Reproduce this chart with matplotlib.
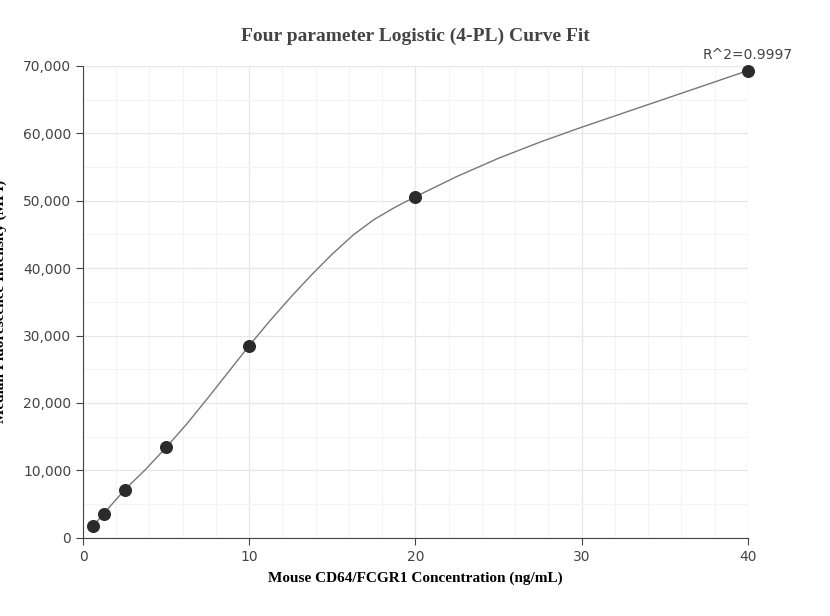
import matplotlib.pyplot as plt
import numpy as np

# measured points
conc = [0.625, 1.25, 2.5, 5, 10, 20, 40]
mfi = [1800, 3600, 7100, 13400, 28500, 50600, 69300]

# fitted curve
curve_x = [0.625, 1.25, 2.5, 3.75, 5, 6.25, 7.5, 8.75, 10, 11.25, 12.5, 13.75, 15,
           16.25, 17.5, 18.75, 20, 22.5, 25, 27.5, 30, 32.5, 35, 37.5, 40]
curve_y = [1800, 3600, 7100, 10100, 13400, 16900, 20700, 24600, 28500, 32200, 35700,
           39000, 42100, 44900, 47200, 49000, 50600, 53600, 56300, 58700, 60900,
           63000, 65100, 67200, 69300]

xticks = [0, 10, 20, 30, 40]
yticks = [0, 10000, 20000, 30000, 40000, 50000, 60000, 70000]

fig = plt.figure(figsize=(8.3, 6.16), dpi=100)
ax = fig.add_axes([0.1, 0.127, 0.801, 0.766])

ax.set_xticks(np.arange(0, 41, 2), minor=True)
ax.set_yticks(np.arange(0, 70001, 5000), minor=True)
ax.grid(which="minor", color="#f2f4f8", lw=0.8)
ax.grid(which="major", color="#e3e7ee", lw=0.9)
ax.set_axisbelow(True)

ax.plot(curve_x, curve_y, color="#777777", lw=1)
ax.scatter(conc, mfi, s=70, color="#2b2b2b", zorder=3, clip_on=False)
ax.annotate("R^2=0.9997", (40, 69300), xytext=(0, 6), textcoords="offset points",
            ha="center", va="bottom", fontsize=10, color="#444444")

ax.set_xlim(0, 40)
ax.set_ylim(0, 70000)
ax.set_xticks(xticks)
ax.set_yticks(yticks)
ax.set_yticklabels([f"{v:,}" for v in yticks])
ax.tick_params(which="both", length=0, labelsize=10, colors="#444444")
ax.tick_params(axis="y", which="major", length=5, color="#444444")
ax.tick_params(axis="x", which="major", length=5, color="#444444")
for s in ["top", "right"]:
    ax.spines[s].set_visible(False)
ax.spines["left"].set_color("#444444")
ax.spines["bottom"].set_color("#444444")

ax.set_title("Four parameter Logistic (4-PL) Curve Fit", fontsize=14, fontweight="bold",
             family="Liberation Serif", color="#444444", pad=18)
ax.set_xlabel("Mouse CD64/FCGR1 Concentration (ng/mL)", fontsize=11, fontweight="bold",
              family="Liberation Serif", labelpad=6)
ax.set_ylabel("Median Fluorescence Intensity (MFI)", fontsize=11, fontweight="bold",
              family="Liberation Serif")
ax.yaxis.set_label_coords(-0.115, 0.5)

fig.savefig("out.png", dpi=100)
